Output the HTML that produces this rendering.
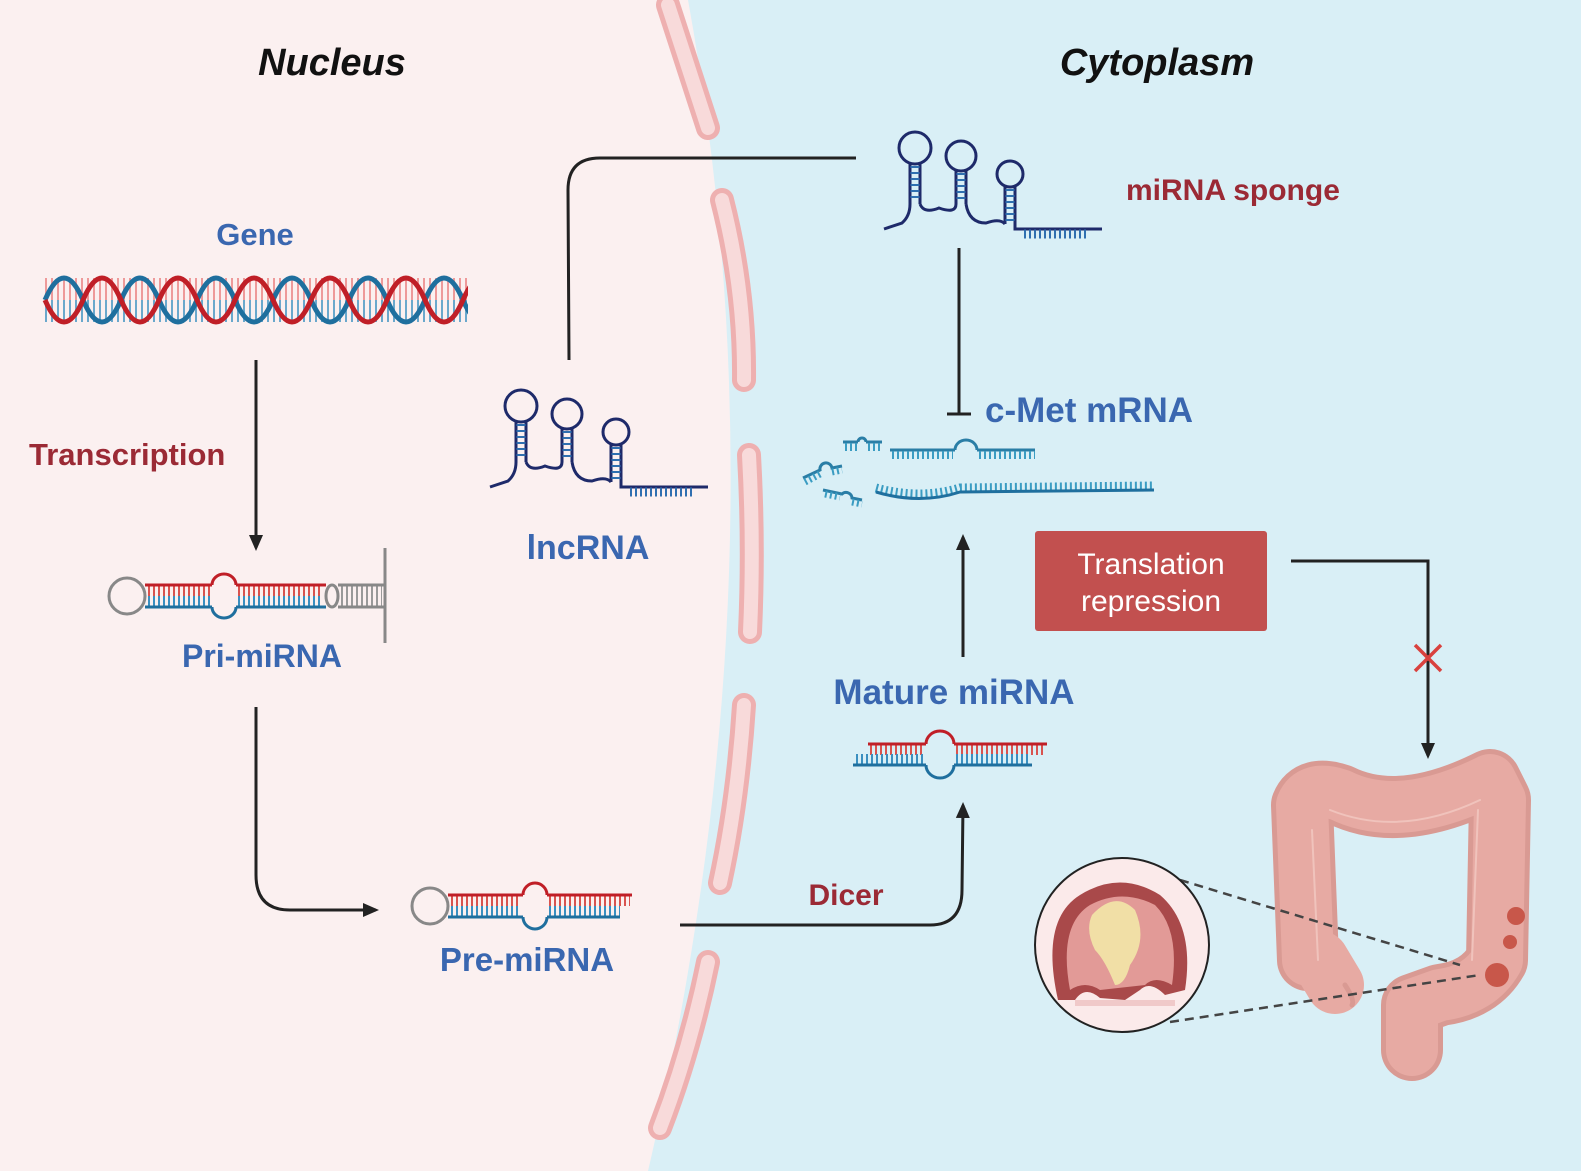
<!DOCTYPE html>
<html><head><meta charset="utf-8"><style>
html,body{margin:0;padding:0;background:#fbf0f0}
svg{display:block}
text{font-family:"Liberation Sans",Arial,sans-serif;font-weight:bold}
</style></head><body>
<svg width="1581" height="1171" viewBox="0 0 1581 1171" xmlns="http://www.w3.org/2000/svg">
<defs>
<marker id="ah" markerWidth="16" markerHeight="16" refX="13" refY="8" orient="auto" markerUnits="userSpaceOnUse" viewBox="0 0 16 16"><path d="M0,1 L16,8 L0,15 z" fill="#222"/></marker>
<g id="lnc" fill="none">
 <circle cx="521" cy="406" r="16" stroke="#1e2a6a" stroke-width="3"/>
 <circle cx="567" cy="414" r="15" stroke="#1e2a6a" stroke-width="3"/>
 <circle cx="616" cy="432" r="13" stroke="#1e2a6a" stroke-width="3"/>
 <path d="M516,421 V462 M526,421 V462 M562,428 V462 M572,428 V462 M611,444 V482 M621,444 V482" stroke="#1e2a6a" stroke-width="3"/>
 <path d="M521,424 V460 M567,431 V460 M616,447 V480" stroke="#2f6fb0" stroke-width="9" stroke-dasharray="2,4"/>
 <path d="M490,487 L508,481 Q516,474 516,462 M526,462 Q530,472 545,466 Q562,472 562,462 M572,462 Q575,481 592,481 Q606,476 611,482 M621,482 V487 H708" stroke="#1e2a6a" stroke-width="3"/>
 <path d="M630,492 H692" stroke="#2f6fb0" stroke-width="9" stroke-dasharray="2,3"/>
</g>
</defs>
<rect width="1581" height="1171" fill="#fbf0f0"/>
<path d="M688,0 Q790,560 648,1171 L1581,1171 L1581,0 Z" fill="#d9eff6"/>
<g stroke-linecap="round" fill="none">
 <g stroke="#eeb0b0" stroke-width="24">
  <path d="M668,5 L708,128"/><path d="M722,200 Q745,290 744,380"/><path d="M749,455 Q754,545 750,632"/><path d="M744,705 Q738,800 720,883"/><path d="M708,962 Q690,1050 660,1128"/>
 </g>
 <g stroke="#f8dada" stroke-width="14">
  <path d="M668,5 L708,128"/><path d="M722,200 Q745,290 744,380"/><path d="M749,455 Q754,545 750,632"/><path d="M744,705 Q738,800 720,883"/><path d="M708,962 Q690,1050 660,1128"/>
 </g>
</g>

<text x="332" y="75" font-size="38" font-style="italic" text-anchor="middle" fill="#111">Nucleus</text>
<text x="1157" y="75" font-size="38" font-style="italic" text-anchor="middle" fill="#111">Cytoplasm</text>
<text x="255" y="245" font-size="31" text-anchor="middle" fill="#3a67b0">Gene</text>
<text x="29" y="465" font-size="31" fill="#9b2a35">Transcription</text>
<text x="262" y="667" font-size="32" text-anchor="middle" fill="#3a67b0">Pri-miRNA</text>
<text x="588" y="559" font-size="34" text-anchor="middle" fill="#3a67b0">lncRNA</text>
<text x="527" y="971" font-size="33" text-anchor="middle" fill="#3a67b0">Pre-miRNA</text>
<text x="846" y="905" font-size="30" text-anchor="middle" fill="#9b2a35">Dicer</text>
<text x="954" y="704" font-size="35" text-anchor="middle" fill="#3a67b0">Mature miRNA</text>
<text x="985" y="422" font-size="35" fill="#3a67b0">c-Met mRNA</text>
<text x="1126" y="200" font-size="30" fill="#9b2a35">miRNA sponge</text>
<rect x="1035" y="531" width="232" height="100" rx="3" fill="#c2504f"/>
<text x="1151" y="574" font-size="30" text-anchor="middle" fill="#fff" style="font-weight:normal">Translation</text>
<text x="1151" y="611" font-size="30" text-anchor="middle" fill="#fff" style="font-weight:normal">repression</text>

<g stroke="#222" stroke-width="3" fill="none">
 <path d="M256,360 L256,548" marker-end="url(#ah)"/>
 <path d="M256,707 L256,875 Q256,910 290,910 L376,910" marker-end="url(#ah)"/>
 <path d="M569,360 L568,190 Q568,158 600,158 L856,158"/>
 <path d="M959,248 L959,413 M947,414 L971,414"/>
 <path d="M963,657 L963,537" marker-end="url(#ah)"/>
 <path d="M680,925 L930,925 Q962,925 962,890 L963,805" marker-end="url(#ah)"/>
 <path d="M1291,561 L1428,561 L1428,756" marker-end="url(#ah)"/>
</g>
<path d="M1415,645 L1441,671 M1441,645 L1415,671" stroke="#d9413e" stroke-width="3.5"/>

<!-- DNA -->
<path d="M45,289 H467" stroke="#ee9a9a" stroke-width="22" stroke-dasharray="2,4"/>
<path d="M45,311 H467" stroke="#6aa8cc" stroke-width="22" stroke-dasharray="2,4"/>
<path d="M45,300 q19,-44 38,0 t38,0 t38,0 t38,0 t38,0 t38,0 t38,0 t38,0 t38,0 t38,0 t38,0 t38,0" fill="none" stroke="#1f6f9e" stroke-width="5"/>
<path d="M45,300 q19,44 38,0 t38,0 t38,0 t38,0 t38,0 t38,0 t38,0 t38,0 t38,0 t38,0 t38,0 t38,0" fill="none" stroke="#c01f27" stroke-width="5"/>
<rect x="468" y="260" width="60" height="80" fill="#fbf0f0"/>

<g fill="none">
 <circle cx="127" cy="596" r="18" stroke="#888" stroke-width="3"/>
 <path d="M148,590.5 H210 M238,590.5 H322" stroke="#d9534f" stroke-width="11" stroke-dasharray="2,3"/>
 <path d="M148,601.5 H210 M238,601.5 H322" stroke="#3a8fc0" stroke-width="11" stroke-dasharray="2,3"/>
 <path d="M145,585 H212 M236,585 H326" stroke="#c01f27" stroke-width="3"/>
 <path d="M145,607 H212 M236,607 H326" stroke="#1f6f9e" stroke-width="3"/>
 <path d="M212,585 A12,11 0 0 1 236,585" stroke="#c01f27" stroke-width="3"/>
 <path d="M212,607 A12,11 0 0 0 236,607" stroke="#1f6f9e" stroke-width="3"/>
 <ellipse cx="332" cy="596" rx="6" ry="11" stroke="#888" stroke-width="3"/>
 <path d="M341,596 H382" stroke="#999" stroke-width="22" stroke-dasharray="2,3"/>
 <path d="M338,585 H385 M338,607 H385 M385,548 V643" stroke="#888" stroke-width="3"/>
 <circle cx="430" cy="906" r="18" stroke="#888" stroke-width="3"/>
 <path d="M451,900.5 H521 M549,900.5 H630" stroke="#d9534f" stroke-width="11" stroke-dasharray="2,3"/>
 <path d="M451,911.5 H521 M549,911.5 H620" stroke="#3a8fc0" stroke-width="11" stroke-dasharray="2,3"/>
 <path d="M448,895 H523 M547,895 H632" stroke="#c01f27" stroke-width="3"/>
 <path d="M448,917 H523 M547,917 H620" stroke="#1f6f9e" stroke-width="3"/>
 <path d="M523,895 A12,12 0 0 1 547,895" stroke="#c01f27" stroke-width="3"/>
 <path d="M523,917 A12,12 0 0 0 547,917" stroke="#1f6f9e" stroke-width="3"/>
 <path d="M870,749.5 H924 M956,749.5 H1046" stroke="#d9534f" stroke-width="11" stroke-dasharray="2,3"/>
 <path d="M856,759.5 H924 M956,759.5 H1030" stroke="#3a8fc0" stroke-width="11" stroke-dasharray="2,3"/>
 <path d="M868,744 H926 M954,744 H1047" stroke="#c01f27" stroke-width="3"/>
 <path d="M853,765 H926 M954,765 H1032" stroke="#1f6f9e" stroke-width="3"/>
 <path d="M926,744 A14,13 0 0 1 954,744" stroke="#c01f27" stroke-width="3"/>
 <path d="M926,765 A14,13 0 0 0 954,765" stroke="#1f6f9e" stroke-width="3"/>
 <path d="M890,450 H955 M977,450 H1035 M843,442 H858 M866,442 H882" stroke="#2a7ea6" stroke-width="3"/>
 <path d="M892,455 H953 M979,455 H1035 M845,447 H858 M868,447 H882" stroke="#3a9cc2" stroke-width="8" stroke-dasharray="2,3"/>
 <path d="M955,450 A11,10 0 0 1 977,450 M858,442 A4,4 0 0 1 866,442" stroke="#2a7ea6" stroke-width="3"/>
 <path d="M876,488 Q920,500 960,488 L1154,486" stroke="#3a9cc2" stroke-width="9" stroke-dasharray="2,3"/>
 <path d="M876,492 Q920,505 960,492 L1154,490" stroke="#1f6f9e" stroke-width="3"/>
 <path d="M803,478 L820,470 A6,6 0 0 1 832,468 L842,466 M823,490 L842,494 A6,6 0 0 1 852,498 L862,500" stroke="#2a7ea6" stroke-width="3"/>
 <path d="M805,482 L820,474 M832,472 L842,470 M825,494 L840,497 M852,502 L862,504" stroke="#3a9cc2" stroke-width="7" stroke-dasharray="2,3"/>
</g>
<use href="#lnc"/>
<use href="#lnc" transform="translate(394,-258)"/>

<!-- colon -->
<g fill="none" stroke-linecap="round" stroke-linejoin="round">
 <path id="col" d="M1308,960 L1302,805 Q1310,785 1340,795 Q1400,825 1490,780 L1500,800 L1497,960 Q1480,990 1440,995 L1412,1005 L1412,1050" stroke="#d99a93" stroke-width="62"/>
 <path d="M1308,960 L1302,805 Q1310,785 1340,795 Q1400,825 1490,780 L1500,800 L1497,960 Q1480,990 1440,995 L1412,1005 L1412,1050" stroke="#e7aaa3" stroke-width="52"/>
 <path d="M1320,960 L1335,985" stroke="#e7aaa3" stroke-width="58"/>
 <path d="M1345,985 Q1355,1000 1352,1005" stroke="#d99a93" stroke-width="5"/>
 <path d="M1312,830 L1318,960 M1330,810 Q1400,838 1480,800 M1478,810 L1472,960" stroke="#f0c3bc" stroke-width="2"/>
</g>
<circle cx="1516" cy="916" r="9" fill="#c8574a"/>
<circle cx="1510" cy="942" r="7" fill="#c8574a"/>
<circle cx="1497" cy="975" r="12" fill="#c8574a"/>
<path d="M1180,880 L1460,965 M1170,1022 L1480,975" stroke="#444" stroke-width="2.5" stroke-dasharray="9,6"/>
<circle cx="1122" cy="945" r="87" fill="#fbeaea" stroke="#222" stroke-width="2"/>
<path d="M1058,1000 Q1040,920 1080,895 Q1120,870 1160,895 Q1195,925 1185,990 L1165,995 Q1150,980 1140,990 L1125,1000 L1100,998 Q1085,985 1075,1000 Z" fill="#a9494a"/>
<path d="M1070,990 Q1058,925 1090,905 Q1122,888 1155,905 Q1180,930 1172,985 Q1155,975 1145,985 L1100,990 Q1085,980 1070,990 Z" fill="#e29a97"/>
<path d="M1092,915 Q1115,890 1135,910 Q1148,940 1130,965 Q1125,985 1115,985 Q1105,960 1095,950 Q1085,930 1092,915 Z" fill="#f1dfa6"/>
<path d="M1075,1003 L1175,1003" stroke="#f0c9c9" stroke-width="6"/>
</svg>
</body></html>
